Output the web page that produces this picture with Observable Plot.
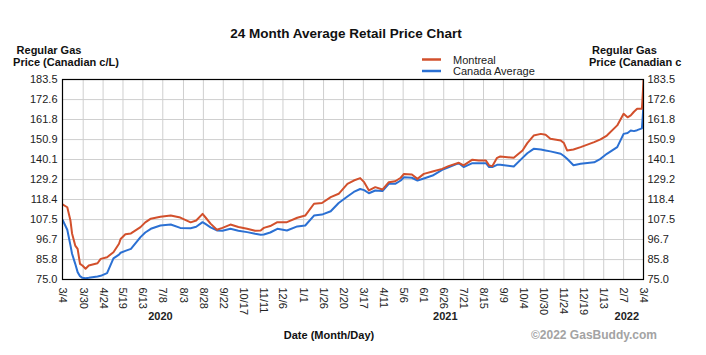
<!DOCTYPE html>
<html>
<head>
<meta charset="utf-8">
<script src="https://cdn.jsdelivr.net/npm/d3@7"></script>
<script src="https://cdn.jsdelivr.net/npm/@observablehq/plot@0.6"></script>
<style>
  html, body { margin: 0; padding: 0; background: #fff; }
  #chart { position: relative; width: 706px; height: 355px; }
</style>
</head>
<body>
<div id="chart"></div>
<script>
const titleText = "24 Month Average Retail Price Chart";
const yAxisTitle = ["Regular Gas", "Price (Canadian c/L)"];
const yAxisTitleRight = ["Regular Gas", "Price (Canadian c"];
const xAxisTitle = "Date (Month/Day)";
const credit = "\u00A92022 GasBuddy.com";
const seriesNames = ["Montreal", "Canada Average"];
const seriesColors = ["#d2502c", "#2b70d3"];

const dates = [
  "2020-03-04","2020-03-10","2020-03-14","2020-03-16","2020-03-20","2020-03-23","2020-03-26","2020-03-29",
  "2020-04-02","2020-04-06","2020-04-17","2020-04-21","2020-04-29","2020-05-07","2020-05-14","2020-05-16",
  "2020-05-22","2020-05-29","2020-06-10","2020-06-16","2020-06-23","2020-07-05","2020-07-18","2020-07-30",
  "2020-08-12","2020-08-19","2020-08-27","2020-08-31","2020-09-06","2020-09-14","2020-09-21","2020-10-01",
  "2020-10-11","2020-10-22","2020-11-01","2020-11-08","2020-11-12","2020-11-20","2020-11-29","2020-12-11",
  "2020-12-24","2021-01-03","2021-01-14","2021-01-24","2021-02-04","2021-02-14","2021-02-25","2021-03-05",
  "2021-03-13","2021-03-18","2021-03-24","2021-04-01","2021-04-10","2021-04-18","2021-04-26","2021-05-03",
  "2021-05-07","2021-05-17","2021-05-24","2021-06-01","2021-06-12","2021-06-24","2021-07-02","2021-07-15",
  "2021-07-21","2021-08-01","2021-08-09","2021-08-18","2021-08-22","2021-08-26","2021-09-01","2021-09-05",
  "2021-09-22","2021-10-03","2021-10-09","2021-10-17","2021-10-26","2021-11-01","2021-11-07","2021-11-20",
  "2021-11-24","2021-11-28","2021-12-06","2021-12-15","2022-01-01","2022-01-09","2022-01-17","2022-01-30",
  "2022-02-07","2022-02-12","2022-02-16","2022-02-20","2022-02-24","2022-03-02","2022-03-03","2022-03-04"
];
const montreal = [
  115.7,114.2,107.0,100.0,93.4,91.6,83.5,82.6,
  80.8,82.6,83.8,86.2,87.1,89.8,94.4,97.0,
  99.5,100.0,103.4,106.0,108.0,109.0,109.7,108.6,
  106.0,107.0,110.6,108.5,105.3,102.0,103.0,104.8,
  103.5,102.5,101.5,101.6,103.0,104.0,106.1,106.1,
  108.5,109.7,116.1,116.5,119.7,121.5,126.9,128.7,
  130.0,127.8,123.3,125.1,123.8,127.8,128.3,130.2,
  132.3,132.0,129.6,132.3,133.6,135.0,136.5,138.3,
  136.9,140.0,139.6,139.6,136.9,136.5,141.0,141.7,
  141.0,145.0,149.0,153.1,154.0,153.5,151.3,150.4,
  149.0,145.0,145.5,146.8,149.5,151.0,153.1,158.6,
  164.9,163.0,164.0,166.0,167.6,167.6,175.0,183.5
];
const canada = [
  107.4,102.0,93.5,89.0,83.5,79.0,76.8,75.9,
  75.7,75.9,76.6,77.0,78.5,86.5,88.5,89.5,
  90.5,91.6,98.0,100.5,102.5,104.3,104.8,103.0,
  102.8,103.6,106.1,105.0,103.3,101.6,101.5,102.5,
  101.5,100.7,99.8,99.3,99.4,100.5,102.5,101.6,
  103.8,104.3,109.7,110.2,112.0,116.5,120.0,122.5,
  124.1,123.5,121.8,123.3,123.0,126.9,126.9,128.7,
  130.5,130.2,128.7,129.8,131.4,134.5,135.9,138.1,
  136.0,138.1,138.1,138.1,136.0,136.0,137.2,137.2,
  136.3,141.0,143.5,145.9,145.5,145.0,144.5,143.2,
  142.0,140.5,137.0,137.8,138.6,140.5,143.2,146.8,
  154.0,154.5,155.8,155.5,156.0,157.0,163.0,170.3
];

const yTicks = [75.0, 85.8, 96.7, 107.5, 118.4, 129.2, 140.1, 150.9, 161.8, 172.6, 183.5];
const xTicks = [
  "2020-03-04","2020-03-30","2020-04-24","2020-05-19","2020-06-13","2020-07-08","2020-08-03","2020-08-28",
  "2020-09-22","2020-10-17","2020-11-11","2020-12-06","2021-01-01","2021-01-26","2021-02-20","2021-03-17",
  "2021-04-11","2021-05-06","2021-06-01","2021-06-26","2021-07-21","2021-08-15","2021-09-09","2021-10-04",
  "2021-10-30","2021-11-24","2021-12-19","2022-01-13","2022-02-07","2022-03-04"
];
const yearLabels = ["2020", "2021", "2022"];
const yearDates = ["2020-07-05", "2021-06-28", "2022-02-11"];

const parse = s => new Date(s + "T00:00:00Z");
const data = dates.map((d, i) => ({date: parse(d), montreal: montreal[i], canada: canada[i]}));
const xTickDates = xTicks.map(parse);
const fmt = d3.utcFormat("%-m/%-d");
const font = "'Liberation Sans', Arial, Helvetica, sans-serif";

const svg = Plot.plot({
  width: 706,
  height: 355,
  marginLeft: 62,
  marginRight: 63,
  marginTop: 79,
  marginBottom: 76,
  style: {fontFamily: font, fontSize: "11px", color: "#222", background: "#fff", overflow: "visible"},
  x: {type: "utc", domain: [parse("2020-03-04"), parse("2022-03-04")]},
  y: {domain: [75, 183.5]},
  marks: [
    Plot.gridX(xTickDates, {stroke: "#cfcfcf", strokeOpacity: 1}),
    Plot.gridY(yTicks, {stroke: "#cfcfcf", strokeOpacity: 1}),
    Plot.lineY(data, {x: "date", y: "canada", stroke: seriesColors[1], strokeWidth: 2, clip: true}),
    Plot.lineY(data, {x: "date", y: "montreal", stroke: seriesColors[0], strokeWidth: 2, clip: true}),
    Plot.frame({stroke: "#000", strokeWidth: 1.2}),
    Plot.axisY(yTicks, {anchor: "left", tickSize: 0, tickPadding: 5, tickFormat: d => d.toFixed(1), label: null}),
    Plot.axisY(yTicks, {anchor: "right", tickSize: 0, tickPadding: 4, tickFormat: d => d.toFixed(1), label: null}),
    Plot.axisX(xTickDates, {anchor: "bottom", tickSize: 0, tickPadding: 8, tickRotate: 90, tickFormat: fmt, label: null}),
    Plot.text(yearLabels, {x: (d, i) => parse(yearDates[i]), text: d => d, frameAnchor: "bottom", dy: 40, fontWeight: "bold", fontSize: 11})
  ]
});

document.getElementById("chart").appendChild(svg);

const s = d3.select(svg);
const addText = (txt, x, y, opts = {}) => s.append("text")
  .attr("x", x).attr("y", y)
  .attr("text-anchor", opts.anchor || "start")
  .attr("font-family", font)
  .attr("font-size", opts.size || 11)
  .attr("font-weight", opts.weight || "normal")
  .attr("fill", opts.fill || "#111")
  .text(txt);

addText(titleText, 346, 38, {anchor: "middle", size: 13.5, weight: "bold"});
addText(yAxisTitle[0], 49, 54, {anchor: "middle", weight: "bold"});
addText(yAxisTitle[1], 66, 66, {anchor: "middle", weight: "bold"});
addText(yAxisTitleRight[0], 592, 54, {weight: "bold"});
addText(yAxisTitleRight[1], 589, 66, {weight: "bold"});
addText(xAxisTitle, 329, 339, {anchor: "middle", weight: "bold"});
addText(credit, 594, 339, {anchor: "middle", size: 12, weight: "bold", fill: "#a3a3a3"});

seriesNames.forEach((name, i) => {
  const y = 59.5 + i * 11.5;
  s.append("line").attr("x1", 422).attr("x2", 441).attr("y1", y).attr("y2", y)
    .attr("stroke", seriesColors[i]).attr("stroke-width", 2.5);
  addText(name, 453, y + 4, {size: 11, fill: "#222"});
});
</script>
</body>
</html>
